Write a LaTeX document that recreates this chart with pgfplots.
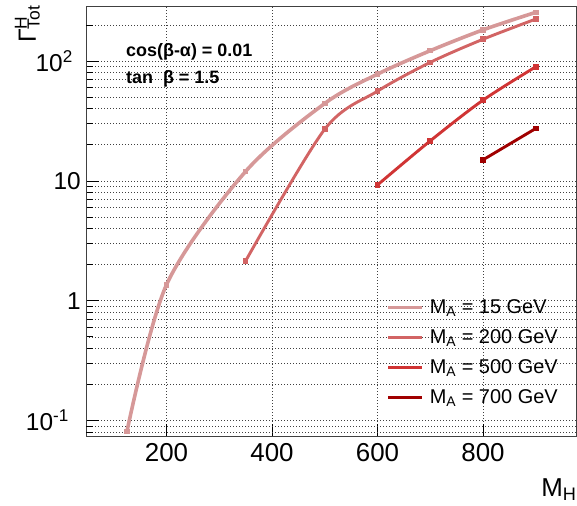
\documentclass[border=0pt]{standalone}
\usepackage{fontspec}
\setmainfont{Liberation Sans}
\usepackage{pgfplots}
\pgfplotsset{compat=1.18}
\definecolor{cA}{RGB}{214,152,152}
\definecolor{cB}{RGB}{210,100,100}
\definecolor{cC}{RGB}{208,52,52}
\definecolor{cD}{RGB}{160,0,0}
\begin{document}
\begin{tikzpicture}
\begin{axis}[
  scale only axis, width=490.7bp, height=430bp,
  xmin=47.5, xmax=977.5, ymode=log, ymin=0.0735, ymax=284,
  axis line style={black!75, line width=1bp},
  tick align=inside, tick pos=left,
  xtick={200,400,600,800}, xticklabels={200,400,600,800},
  minor x tick num=0,
  ytick={0.1,1,10,100},
  yticklabels={10\textsuperscript{-1}\hspace*{12bp}, 1, 10, 10\textsuperscript{2}\hspace*{8bp}},
  extra y ticks={0.08,0.09,200},
  extra y tick labels={},
  extra y tick style={major tick length=7bp, grid=major},
  major tick length=13bp, minor tick length=7bp,
  tick style={black, line width=0.8bp},
  xmajorgrids, ymajorgrids, yminorgrids,
  grid style={black!75, line width=0.7bp, dash pattern=on 1bp off 2bp},
  major grid style={black!75, line width=0.7bp, dash pattern=on 1bp off 2bp},
  minor grid style={black!75, line width=0.7bp, dash pattern=on 1bp off 2bp},
  xticklabel style={font=\fontsize{26}{30}\selectfont, inner sep=7bp},
  yticklabel style={font=\fontsize{24.5}{29}\selectfont, inner sep=5bp},
  xlabel={M\textsubscript{H}},
  xlabel style={at={(axis description cs:1,0)}, anchor=north east, yshift=-41.6bp, inner sep=0pt, font=\fontsize{26}{30}\selectfont},
  ylabel={Γ\rlap{\textsuperscript{H}}\textsubscript{Tot}},
  ylabel style={at={(axis description cs:0,1)}, anchor=south east, xshift=1.5bp, yshift=46bp, inner sep=0pt, font=\fontsize{25}{30}\selectfont},
  legend style={at={(rel axis cs:0.6128,0.3219)}, anchor=north west, draw=none, fill=none,
    inner sep=0pt, row sep=11.2bp, column sep=6bp,
    font=\fontsize{20}{24}\selectfont,
    nodes={inner sep=0pt, text height=15bp, text depth=3.8bp}},
  legend cell align=left,
  legend image code/.code={\draw[#1, line width=3bp] (0bp,0bp) -- (34bp,0bp);},
  every axis plot/.append style={smooth},
]
\addplot[cA, line width=3.6bp, mark=square*, mark size=2.3bp, mark options={solid, fill=cA, draw=cA, line width=0pt}]
  coordinates {(125,0.081) (200,1.36) (350,12.0) (500,44.3) (600,77.8) (700,122) (800,182) (900,255)};
\addlegendentry{M\textsubscript{A} = 15 GeV}
\addplot[cB, line width=2.9bp, mark=square*, mark size=2.3bp, mark options={solid, fill=cB, draw=cB, line width=0pt}]
  coordinates {(350,2.15) (500,27.0) (600,56.1) (700,97.5) (800,152) (900,224)};
\addlegendentry{M\textsubscript{A} = 200 GeV}
\addplot[cC, line width=2.9bp, mark=square*, mark size=2.3bp, mark options={solid, fill=cC, draw=cC, line width=0pt}]
  coordinates {(600,9.26) (700,21.6) (800,47.2) (900,89.6)};
\addlegendentry{M\textsubscript{A} = 500 GeV}
\addplot[cD, line width=2.9bp, mark=square*, mark size=2.3bp, mark options={solid, fill=cD, draw=cD, line width=0pt}]
  coordinates {(800,15.0) (900,27.4)};
\addlegendentry{M\textsubscript{A} = 700 GeV}
\node[anchor=base west, inner sep=0pt, font=\bfseries\fontsize{18}{22}\selectfont] at (rel axis cs:0.0815,0.8837) {cos(β-α) = 0.01};
\node[anchor=base west, inner sep=0pt, font=\bfseries\fontsize{18}{22}\selectfont] at (rel axis cs:0.0815,0.8219) {tan\ \ β = 1.5};
\end{axis}
\pgfresetboundingbox
\path[use as bounding box] ([shift={(-86bp,-68.3bp)}]current axis.south west) rectangle ([shift={(0.3bp,6.7bp)}]current axis.north east);
\end{tikzpicture}
\end{document}
